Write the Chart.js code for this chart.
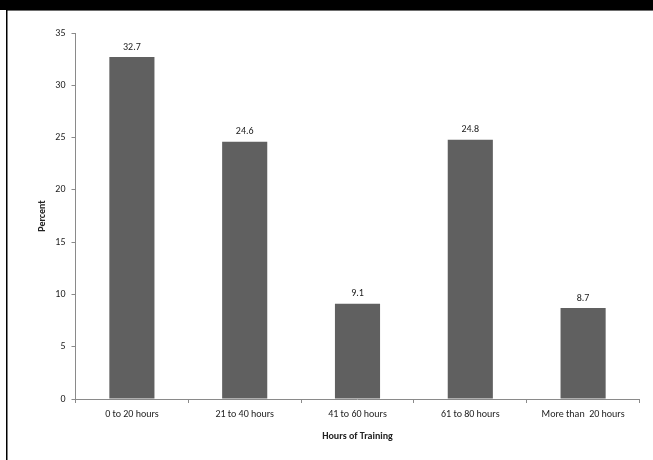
<!DOCTYPE html>
<html>
<head>
<meta charset="utf-8">
<style>
  html, body { margin: 0; padding: 0; background: #ffffff; }
  #wrap { position: absolute; left: 0; top: 0; width: 653px; height: 460px; }
</style>
<script src="https://cdn.jsdelivr.net/npm/chart.js@4/dist/chart.umd.min.js"></script>
</head>
<body>
<div id="wrap"><canvas id="c" width="653" height="460"></canvas></div>
<script>
const categories = ["0 to 20 hours", "21 to 40 hours", "41 to 60 hours", "61 to 80 hours", "More than  20 hours"];
const percentValues = [32.7, 24.6, 9.1, 24.8, 8.7];
const yTicks = [0, 5, 10, 15, 20, 25, 30, 35];
const xTitle = "Hours of Training";
const yTitle = "Percent";

const FONT = "Carlito, Lato, 'Open Sans', sans-serif";

const framePlugin = {
  id: 'frame',
  beforeDraw(chart) {
    const ctx = chart.ctx;
    ctx.save();
    ctx.fillStyle = '#ffffff';
    ctx.fillRect(0, 0, chart.width, chart.height);
    ctx.fillStyle = '#000000';
    ctx.fillRect(0, 0, chart.width, 10);
    ctx.fillStyle = '#6e6e6e';
    ctx.fillRect(7, 10, chart.width - 7, 1);
    ctx.fillStyle = '#000000';
    ctx.fillRect(6, 10, 1.5, chart.height - 10);
    ctx.restore();
  }
};

const valueLabels = {
  id: 'valueLabels',
  afterDatasetsDraw(chart) {
    const ctx = chart.ctx;
    const meta = chart.getDatasetMeta(0);
    ctx.save();
    ctx.font = "10px " + FONT;
    ctx.fillStyle = '#222222';
    ctx.textAlign = 'center';
    ctx.textBaseline = 'middle';
    meta.data.forEach((bar, i) => {
      ctx.fillText(percentValues[i].toFixed(1), bar.x, bar.y - 10);
    });
    ctx.restore();
  }
};

new Chart(document.getElementById('c'), {
  type: 'bar',
  data: {
    labels: categories,
    datasets: [{
      data: percentValues,
      backgroundColor: '#606060',
      borderWidth: 0,
      barPercentage: 0.4,
      categoryPercentage: 1.0
    }]
  },
  options: {
    responsive: false,
    animation: false,
    devicePixelRatio: 1,
    layout: { padding: { left: 30, right: 13.5, top: 33, bottom: 16 } },
    plugins: {
      legend: { display: false },
      tooltip: { enabled: false }
    },
    scales: {
      x: {
        offset: true,
        grid: { offset: true, drawOnChartArea: false, drawTicks: true, tickLength: 4, color: '#8a8a8a' },
        border: { color: '#8a8a8a', width: 1 },
        ticks: { font: { size: 10, family: FONT }, color: '#222222', padding: 5, maxRotation: 0, autoSkip: false },
        title: { display: true, text: xTitle, font: { size: 10, weight: 'bold', family: FONT }, color: '#222222', padding: { top: 4, bottom: 2 } },
        afterFit(scale) { scale.height = 45; }
      },
      y: {
        min: 0,
        max: 35,
        afterBuildTicks(scale) { scale.ticks = yTicks.map(v => ({ value: v })); },
        grid: { drawOnChartArea: false, drawTicks: true, tickLength: 4, color: '#8a8a8a' },
        border: { color: '#8a8a8a', width: 1 },
        ticks: { font: { size: 10, family: FONT }, color: '#222222', padding: 6 },
        title: { display: true, text: yTitle, font: { size: 10, weight: 'bold', family: FONT }, color: '#222222', padding: { top: 6, bottom: 0 } },
        afterFit(scale) { scale.width = 45.5; }
      }
    }
  },
  plugins: [framePlugin, valueLabels]
});
</script>
</body>
</html>
